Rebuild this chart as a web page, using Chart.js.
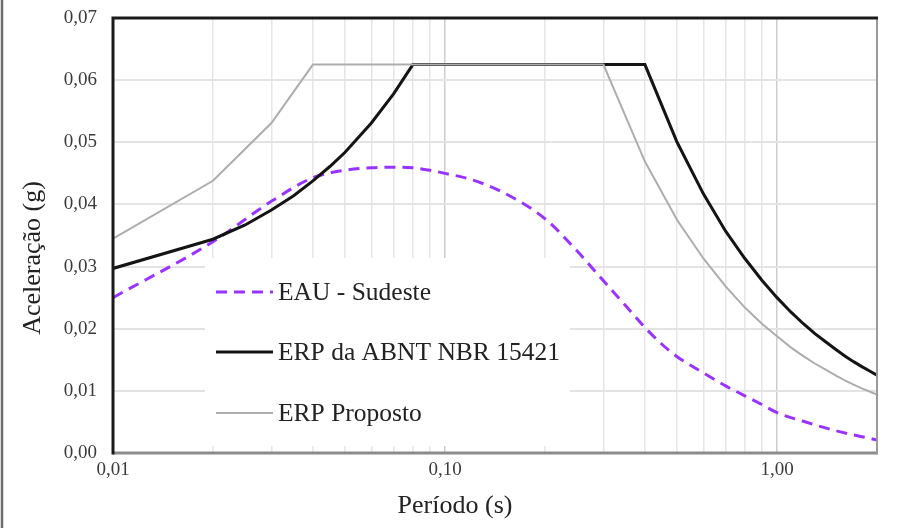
<!DOCTYPE html>
<html lang="pt-BR">
<head>
<meta charset="utf-8">
<title>Espectros de resposta – Aceleração x Período</title>
<script src="https://cdn.jsdelivr.net/npm/chart.js@4.4.1/dist/chart.umd.min.js"></script>
<style>
  html, body { margin: 0; padding: 0; background: #ffffff; }
  #wrap { width: 915px; height: 528px; position: relative; }
</style>
</head>
<body>
<div id="wrap"><canvas id="espectro"></canvas></div>
<script>
// Espectro EAU - Sudeste (período em s, aceleração em g)
const periodsEAU = [0.01, 0.02, 0.03, 0.04, 0.05, 0.06, 0.07, 0.08, 0.09, 0.10, 0.12, 0.15, 0.20, 0.25, 0.30, 0.35, 0.40, 0.45, 0.50, 0.60, 0.70, 0.80, 0.90, 1.00, 1.20, 1.50, 2.00];
const accelEAU   = [0.0250, 0.0340, 0.0405, 0.0443, 0.0455, 0.0459, 0.0460, 0.0459, 0.0455, 0.0450, 0.0440, 0.0419, 0.0377, 0.0325, 0.0277, 0.0237, 0.0202, 0.0175, 0.0155, 0.0129, 0.0108, 0.0092, 0.0078, 0.0065, 0.0051, 0.0036, 0.0021];

// ERP da ABNT NBR 15421
const periodsABNT = [0.01, 0.02, 0.025, 0.03, 0.035, 0.04, 0.045, 0.05, 0.06, 0.07, 0.08, 0.40, 0.50, 0.60, 0.70, 0.80, 0.90, 1.00, 1.10, 1.20, 1.30, 1.40, 1.50, 1.60, 1.70, 1.80, 1.90, 2.00];
const accelABNT   = [0.0297, 0.0344, 0.0367, 0.0391, 0.0414, 0.0438, 0.0461, 0.0484, 0.0531, 0.0578, 0.0625, 0.0625, 0.0500, 0.0417, 0.0357, 0.0313, 0.0278, 0.0250, 0.0227, 0.0208, 0.0192, 0.0179, 0.0167, 0.0156, 0.0147, 0.0139, 0.0132, 0.0125];

// ERP Proposto
const periodsProp = [0.01, 0.02, 0.03, 0.04, 0.30, 0.40, 0.50, 0.60, 0.70, 0.80, 0.90, 1.00, 1.10, 1.20, 1.30, 1.40, 1.50, 1.60, 1.70, 1.80, 1.90, 2.00];
const accelProp   = [0.0345, 0.0438, 0.0531, 0.0625, 0.0625, 0.0469, 0.0375, 0.0313, 0.0268, 0.0234, 0.0208, 0.0188, 0.0170, 0.0156, 0.0144, 0.0134, 0.0125, 0.0117, 0.0110, 0.0104, 0.0099, 0.0094];

// Eixo X (escala log): linhas de grade e rótulos
const xGridPeriods = [0.01, 0.02, 0.03, 0.04, 0.05, 0.06, 0.07, 0.08, 0.09,
                      0.1, 0.2, 0.3, 0.4, 0.5, 0.6, 0.7, 0.8, 0.9, 1, 2];
const xLabelValues = [0.01, 0.1, 1];
const xLabelTexts  = ['0,01', '0,10', '1,00'];

const seriesNames = ['EAU - Sudeste', 'ERP da ABNT NBR 15421', 'ERP Proposto'];
const xAxisTitle = 'Período (s)';
const yAxisTitle = 'Aceleração (g)';

const pairs = (xs, ys) => xs.map((x, i) => ({ x: x, y: ys[i] }));
const FONT = "'Liberation Serif', 'Times New Roman', serif";

// Fundo branco, borda da página, moldura, títulos dos eixos e legenda interna
const framePlugin = {
  id: 'frame',
  beforeDraw(chart) {
    const { ctx, width, height } = chart;
    ctx.save();
    ctx.fillStyle = '#ffffff';
    ctx.fillRect(0, 0, width, height);
    ctx.strokeStyle = '#6e6e6e';
    ctx.lineWidth = 2.5;
    ctx.beginPath();
    ctx.moveTo(2, 0);
    ctx.lineTo(2, height);
    ctx.stroke();
    ctx.restore();
  },
  afterDatasetsDraw(chart) {
    const { ctx } = chart;
    const ds = chart.data.datasets;
    ctx.save();
    // caixa da legenda
    ctx.fillStyle = '#ffffff';
    ctx.fillRect(205, 258, 365, 188);
    const rowsY = [292, 352, 413];
    ds.forEach((d, i) => {
      const y = rowsY[i];
      ctx.beginPath();
      ctx.strokeStyle = d.borderColor;
      ctx.lineWidth = d.borderWidth;
      ctx.setLineDash(d.borderDash || []);
      ctx.moveTo(216, y);
      ctx.lineTo(273, y);
      ctx.stroke();
      ctx.setLineDash([]);
      ctx.fillStyle = '#222222';
      ctx.font = '25.5px ' + FONT;
      ctx.textAlign = 'left';
      ctx.textBaseline = 'middle';
      ctx.fillText(d.label, 278, y + 1);
    });
    ctx.restore();
  },
  afterDraw(chart) {
    const { ctx, chartArea: a } = chart;
    ctx.save();
    // eixo inferior e lateral direita em cinza
    ctx.strokeStyle = '#8c8c8c';
    ctx.lineWidth = 3;
    ctx.beginPath();
    ctx.moveTo(a.left, a.bottom);
    ctx.lineTo(a.right, a.bottom);
    ctx.stroke();
    ctx.lineWidth = 2;
    ctx.strokeStyle = '#9a9a9a';
    ctx.beginPath();
    ctx.moveTo(a.right, a.top);
    ctx.lineTo(a.right, a.bottom + 1.5);
    ctx.stroke();
    // topo e eixo vertical em preto
    ctx.strokeStyle = '#1a1a1a';
    ctx.lineWidth = 3;
    ctx.beginPath();
    ctx.moveTo(a.left, a.bottom + 1.5);
    ctx.lineTo(a.left, a.top);
    ctx.lineTo(a.right + 1, a.top);
    ctx.stroke();
    // títulos dos eixos
    ctx.fillStyle = '#222222';
    ctx.font = '26px ' + FONT;
    ctx.textAlign = 'center';
    ctx.textBaseline = 'middle';
    ctx.fillText(xAxisTitle, 455, 506);
    ctx.translate(33, 258);
    ctx.rotate(-Math.PI / 2);
    ctx.fillText(yAxisTitle, 0, 0);
    ctx.restore();
  }
};

new Chart(document.getElementById('espectro'), {
  type: 'line',
  data: {
    datasets: [
      {
        label: seriesNames[0],
        data: pairs(periodsEAU, accelEAU),
        borderColor: '#9933ff',
        borderWidth: 3,
        borderDash: [11, 7],
        cubicInterpolationMode: 'monotone',
        pointRadius: 0,
        fill: false,
        order: 3
      },
      {
        label: seriesNames[1],
        data: pairs(periodsABNT, accelABNT),
        borderColor: '#141414',
        borderWidth: 3,
        tension: 0,
        pointRadius: 0,
        fill: false,
        order: 2
      },
      {
        label: seriesNames[2],
        data: pairs(periodsProp, accelProp),
        borderColor: '#adadad',
        borderWidth: 2,
        tension: 0,
        pointRadius: 0,
        fill: false,
        order: 1
      }
    ]
  },
  options: {
    responsive: true,
    maintainAspectRatio: false,
    animation: false,
    layout: { padding: { top: 18, right: 38, bottom: 0, left: 0 } },
    plugins: {
      legend: { display: false },
      tooltip: { enabled: false },
      title: { display: false }
    },
    scales: {
      x: {
        type: 'logarithmic',
        min: 0.01,
        max: 2,
        afterBuildTicks(scale) {
          scale.ticks = xGridPeriods.map(v => ({ value: v, major: xLabelValues.includes(v) }));
        },
        afterFit(scale) {
          scale.height = 75;
          scale.paddingLeft = 0;
          scale.paddingRight = 0;
        },
        border: { display: false },
        grid: {
          drawTicks: false,
          lineWidth: 1.5,
          color: ctx => (ctx.tick && xLabelValues.includes(ctx.tick.value)) ? '#cdcdcd' : '#e6e6e6'
        },
        ticks: {
          autoSkip: false,
          maxRotation: 0,
          padding: 6,
          color: '#3a3a3a',
          font: { family: FONT, size: 19 },
          callback(value) {
            const i = xLabelValues.indexOf(value);
            return i >= 0 ? xLabelTexts[i] : '';
          }
        },
        title: { display: false }
      },
      y: {
        type: 'linear',
        min: 0,
        max: 0.07,
        afterFit(scale) {
          scale.width = 113;
          scale.paddingTop = 0;
          scale.paddingBottom = 0;
        },
        border: { display: false },
        grid: {
          drawTicks: false,
          lineWidth: 2,
          color: '#e3e3e3'
        },
        ticks: {
          stepSize: 0.01,
          padding: 16,
          color: '#3a3a3a',
          font: { family: FONT, size: 19 },
          callback: v => v.toFixed(2).replace('.', ',')
        },
        title: { display: false }
      }
    }
  },
  plugins: [framePlugin]
});
</script>
</body>
</html>
